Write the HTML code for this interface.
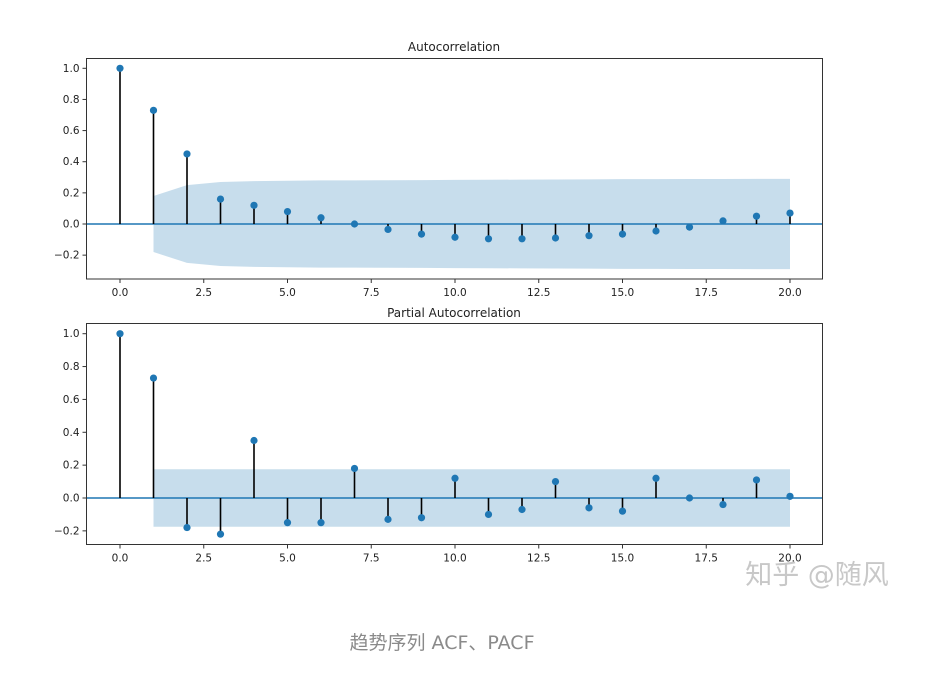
<!DOCTYPE html>
<html><head><meta charset="utf-8">
<style>
html,body{margin:0;padding:0;background:#fff;}
svg{display:block;}
text{font-family:"DejaVu Sans","Liberation Sans",sans-serif;}
</style></head>
<body>
<svg id="fig" width="939" height="684" viewBox="0 0 939 684" xmlns="http://www.w3.org/2000/svg">
  <text x="454" y="51" font-size="12" text-anchor="middle" fill="#222">Autocorrelation</text>
  <text x="454" y="317" font-size="12" text-anchor="middle" fill="#222">Partial Autocorrelation</text>
  <text x="817" y="584" font-size="27" text-anchor="middle" fill="#c8c8c8" font-family="'Liberation Sans','Noto Sans CJK SC',sans-serif">知乎 @随风</text>
  <text x="442" y="649" font-size="19" text-anchor="middle" fill="#8a8a8a" font-family="'Liberation Sans','Noto Sans CJK SC',sans-serif">趋势序列 ACF、PACF</text>
</svg>
<script>
const lags = [0,1,2,3,4,5,6,7,8,9,10,11,12,13,14,15,16,17,18,19,20];
const acfValues = [1.0,0.73,0.45,0.16,0.12,0.08,0.04,0.0,-0.035,-0.065,-0.085,-0.095,-0.095,-0.09,-0.075,-0.065,-0.045,-0.02,0.02,0.05,0.07];
const acfBand = [0,0.18,0.25,0.27,0.275,0.278,0.28,0.28,0.281,0.282,0.283,0.284,0.285,0.286,0.287,0.288,0.288,0.289,0.289,0.29,0.29];
const pacfValues = [1.0,0.73,-0.18,-0.22,0.35,-0.15,-0.15,0.18,-0.13,-0.12,0.12,-0.10,-0.07,0.10,-0.06,-0.08,0.12,0.0,-0.04,0.11,0.01];
const pacfBand = [0,0.175,0.175,0.175,0.175,0.175,0.175,0.175,0.175,0.175,0.175,0.175,0.175,0.175,0.175,0.175,0.175,0.175,0.175,0.175,0.175];
const xTicks = [0,2.5,5,7.5,10,12.5,15,17.5,20];
const xTickLabels = ["0.0","2.5","5.0","7.5","10.0","12.5","15.0","17.5","20.0"];
const acfYTicks = [-0.2,0,0.2,0.4,0.6,0.8,1.0];
const acfYTickLabels = ["\u22120.2","0.0","0.2","0.4","0.6","0.8","1.0"];
const pacfYTicks = [-0.2,0,0.2,0.4,0.6,0.8,1.0];
const pacfYTickLabels = ["\u22120.2","0.0","0.2","0.4","0.6","0.8","1.0"];

const NS = "http://www.w3.org/2000/svg";
const svg = document.getElementById('fig');
function mk(tag, attrs, parent){ const e=document.createElementNS(NS,tag); for(const k in attrs) e.setAttribute(k,attrs[k]); (parent||svg).appendChild(e); return e; }

function panel(prefix, top, bottom, y1px, y0px, vals, band, yt, ytl){
  const L=86.5, R=822.5;
  const x = v => 120 + v*33.5;
  const y = v => y0px - v*(y0px-y1px);
  const g = mk('g',{});
  
  
  let d = '';
  for(let i=1;i<lags.length;i++) d += (i===1?'M':'L')+x(lags[i])+','+y(band[i]);
  for(let i=lags.length-1;i>=1;i--) d += 'L'+x(lags[i])+','+y(-band[i]);
  const b = mk('path',{d:d+'Z',fill:'#1f77b4','fill-opacity':'0.25',stroke:'none'},g);
  
  
  const z = mk('line',{x1:L,x2:R,y1:y(0),y2:y(0),stroke:'#1f77b4','stroke-width':1.5},g);
  
  
  for(let i=0;i<lags.length;i++){
    const s = mk('line',{x1:x(lags[i]),x2:x(lags[i]),y1:y(0),y2:y(vals[i]),stroke:'#000','stroke-width':1.6},g);
    
    
  }
  for(let i=0;i<lags.length;i++){
    const c = mk('circle',{cx:x(lags[i]),cy:y(vals[i]),r:3.6,fill:'#1f77b4'},g);
    
    
  }
  const f = mk('rect',{x:L,y:top,width:R-L,height:bottom-top,fill:'none',stroke:'#333','stroke-width':1},g);
  
  
  for(let i=0;i<xTicks.length;i++){
    mk('line',{x1:x(xTicks[i]),x2:x(xTicks[i]),y1:bottom,y2:bottom+4,stroke:'#333'},g);
    const t = mk('text',{x:x(xTicks[i]),y:bottom+17,'font-size':10.5,'text-anchor':'middle',fill:'#222'},g);
    t.textContent = xTickLabels[i];
    
    
  }
  for(let i=0;i<yt.length;i++){
    mk('line',{x1:L-4,x2:L,y1:y(yt[i]),y2:y(yt[i]),stroke:'#333'},g);
    const t = mk('text',{x:L-7,y:y(yt[i])+3.5,'font-size':10.5,'text-anchor':'end',fill:'#222'},g);
    t.textContent = ytl[i];
    
    
  }
}
panel('acf', 58.5, 279, 68.3, 224, acfValues, acfBand, acfYTicks, acfYTickLabels);
panel('pacf', 323.5, 544.5, 333.7, 498, pacfValues, pacfBand, pacfYTicks, pacfYTickLabels);
</script>
</body></html>
